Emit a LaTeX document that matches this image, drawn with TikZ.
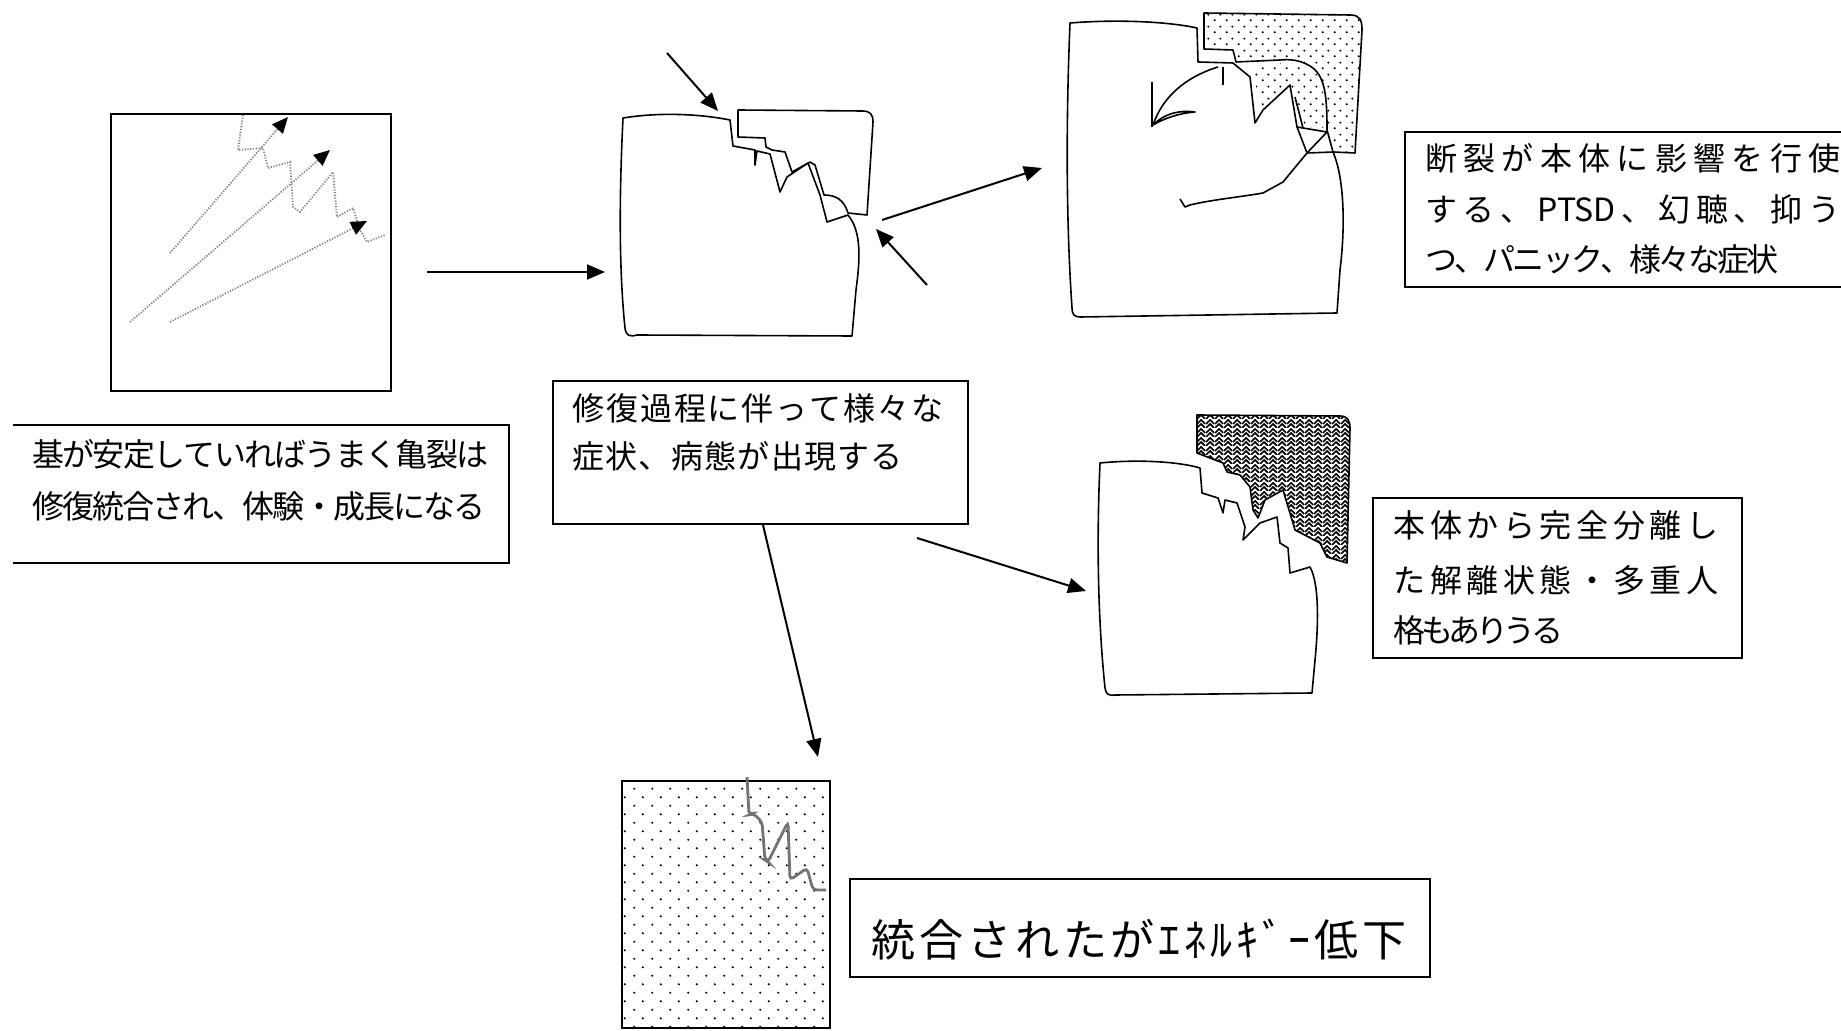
\documentclass[tikz,border=0pt]{standalone}
\usepackage{fontspec}
\newfontfamily\jp{Noto Sans CJK JP}
\usetikzlibrary{arrows.meta,patterns}
% spread the characters of a line evenly over a given width
\makeatletter
\def\jspread#1{\jsp@loop#1\relax}
\def\jsp@loop#1{\ifx#1\relax\else#1\hskip 0pt plus 1fil minus 3pt\relax\expandafter\jsp@loop\fi}
\makeatother
% a line of text set to a given width (in px of the drawing grid)
\newcommand\jline[2]{\hbox to \dimexpr #1pt/2\relax{\jspread{#2}\unskip}}
\newcommand\ptsdword{PTSD}

% staggered dot fills
\pgfdeclarepatternformonly{sparsedots}{\pgfqpoint{0pt}{0pt}}{\pgfqpoint{9pt}{8.7pt}}{\pgfqpoint{9pt}{8.7pt}}{%
  \pgfpathcircle{\pgfqpoint{2.25pt}{2.2pt}}{0.6pt}%
  \pgfpathcircle{\pgfqpoint{6.75pt}{6.55pt}}{0.6pt}%
  \pgfusepath{fill}}
\pgfdeclarepatternformonly{finedots}{\pgfqpoint{0pt}{0pt}}{\pgfqpoint{6pt}{6pt}}{\pgfqpoint{6pt}{6pt}}{%
  \pgfpathcircle{\pgfqpoint{1.5pt}{1.5pt}}{0.6pt}%
  \pgfpathcircle{\pgfqpoint{4.5pt}{4.5pt}}{0.6pt}%
  \pgfusepath{fill}}
% woven chevron fill
\pgfdeclarepatternformonly{weave}{\pgfqpoint{0pt}{0pt}}{\pgfqpoint{4.5pt}{4.5pt}}{\pgfqpoint{4.5pt}{4.5pt}}{%
  \pgfsetlinewidth{0.9pt}%
  \pgfpathmoveto{\pgfqpoint{0pt}{0pt}}\pgfpathlineto{\pgfqpoint{2.25pt}{2.25pt}}\pgfpathlineto{\pgfqpoint{4.5pt}{0pt}}%
  \pgfpathmoveto{\pgfqpoint{0pt}{2.25pt}}\pgfpathlineto{\pgfqpoint{2.25pt}{4.5pt}}\pgfpathlineto{\pgfqpoint{4.5pt}{2.25pt}}%
  \pgfusepath{stroke}}

\begin{document}
\begin{tikzpicture}[x=0.5pt,y=-0.5pt,
  conn/.style={line width=1pt,-{Triangle[length=9pt,width=7.5pt]}},
  dotarrow/.style={black!50,line width=0.9pt,dash pattern=on 0.6pt off 0.8pt,
                   -{Triangle[length=8pt,width=7pt,color=black]}},
  dotline/.style={black!50,line width=0.9pt,dash pattern=on 0.6pt off 0.8pt},
  outline/.style={line width=0.8pt,line join=round},
  frame/.style={line width=0.8pt},
  txt/.style={inner sep=0pt,anchor=base west,font=\jp\fontsize{16}{19}\selectfont},
  bigtxt/.style={inner sep=0pt,anchor=base west,font=\jp\fontsize{22}{26}\selectfont}]

\useasboundingbox (0,0) rectangle (1841,1031);
\fill[white] (0,0) rectangle (1841,1031);

%% ---------- square with growing cracks ----------
\draw[line width=1pt] (111,114) rectangle (391,391);
\draw[dotline] (243,115) -- (238,150) -- (263,148) -- (268,168) -- (290,162) -- (293,207)
  -- (300,212) -- (333,172) -- (337,217) -- (353,208) -- (360,230) -- (367,242) -- (385,235);
\coordinate (ga) at (170,253); \coordinate (gae) at (288,117);
\coordinate (gb) at (130,322); \coordinate (gbe) at (330,150);
\coordinate (gc) at (170,322); \coordinate (gce) at (367,221);
\draw[dotarrow] (ga) -- (gae);
\draw[dotarrow] (gb) -- (gbe);
\draw[dotarrow] (gc) -- (gce);

\draw[frame] (13,425) -- (509,425) -- (509,563) -- (13,563);
\node[txt] (t1a) at (32,467) {\jline{456}{基が安定していればうまく亀裂は}};
\node[txt] (t1b) at (32,519) {\jline{453}{修復統合され、体験・成長になる}};

%% ---------- broken block in the middle ----------
\draw[outline] (623,118) .. controls (660,112) and (700,114) .. (730,120) -- (733,146) -- (755,150)
  -- (755,165) -- (757,151) -- (770,154) -- (780,192) -- (787,177) -- (808,163) -- (820,195)
  -- (827,222) -- (848,215) .. controls (862,232) and (860,260) .. (856,290) -- (852,336)
  -- (637,335) .. controls (630,337) and (626,336) .. (625,328)
  .. controls (618,260) and (620,180) .. (623,118) -- cycle;
\draw[outline] (738,110) -- (862,111) .. controls (870,111) and (873,114) .. (873,122) -- (867,215)
  -- (848,213) .. controls (844,200) and (836,195) .. (824,195) -- (815,165) -- (810,162)
  -- (792,172) -- (785,152) -- (772,150) -- (766,147) -- (765,138) -- (738,137) -- cycle;

\coordinate (m1) at (427,272); \coordinate (m1e) at (605,272);
\coordinate (m2) at (667,53);  \coordinate (m2e) at (718,111);
\coordinate (m3) at (927,285); \coordinate (m3e) at (876,229);
\draw[conn] (m1) -- (m1e);
\draw[conn] (m2) -- (m2e);
\draw[conn] (m3) -- (m3e);

\draw[frame] (553,381) rectangle (968,524);
\node[txt] (t2a) at (572,421) {\jline{371}{修復過程に伴って様々な}};
\node[txt] (t2b) at (572,469) {\jline{330}{症状、病態が出現する}};

%% ---------- block acted on by its fragment ----------
\draw[outline] (1070,23) .. controls (1120,19) and (1170,22) .. (1197,28) -- (1198,62) -- (1233,63)
  -- (1250,77) -- (1255,123) -- (1263,110) -- (1290,85) -- (1297,127) -- (1307,153) -- (1333,152)
  .. controls (1345,180) and (1345,230) .. (1340,270) -- (1337,313) -- (1080,317)
  .. controls (1074,317) and (1072,314) .. (1072,308) .. controls (1066,220) and (1066,120) .. (1070,23) -- cycle;
\draw[outline,pattern=finedots] (1204,13) -- (1350,15) .. controls (1360,15) and (1362,20) .. (1362,30)
  -- (1355,153) -- (1333,152) -- (1327,130) .. controls (1327,95) and (1325,75) .. (1310,66)
  .. controls (1300,60) and (1290,59) .. (1280,60) -- (1236,62) -- (1233,50) -- (1204,49) -- cycle;
\fill[pattern=finedots] (1252,70) -- (1280,63) .. controls (1295,63) and (1308,66) .. (1316,73)
  .. controls (1323,85) and (1325,100) .. (1325,128) -- (1305,127) -- (1297,100) -- (1290,85)
  -- (1263,110) -- (1257,90) -- cycle;
\draw[outline] (1297,127) -- (1327,132) -- (1307,153);
\draw[outline] (1295,97) -- (1303,128);
\draw[outline] (1223,67) -- (1223,85);
\draw[outline] (1218,67) .. controls (1195,74) and (1165,90) .. (1153,125);
\draw[outline] (1152,82) -- (1152,127);
\draw[outline] (1153,125) .. controls (1165,113) and (1180,110) .. (1195,112)
  .. controls (1180,113) and (1165,118) .. (1153,125);
\draw[outline] (1307,153) -- (1283,182) -- (1263,193) .. controls (1240,197) and (1210,200) .. (1190,205)
  -- (1185,207) -- (1180,199);

\coordinate (m4) at (882,220); \coordinate (m4e) at (1042,168);
\draw[conn] (m4) -- (m4e);

\draw[frame] (1841,132) -- (1405,132) -- (1405,287) -- (1841,287);
\node[txt] (t3a) at (1425,171) {\jline{415}{断裂が本体に影響を行使}};
\node[txt] (t3b) at (1425,222) {\jline{415}{する、\ptsdword、幻聴、抑う}};
\node[txt] (t3c) at (1425,272) {\jline{353}{つ、パニック、様々な症状}};

%% ---------- block with a fully separated fragment ----------
\draw[outline] (1100,463) .. controls (1140,459) and (1180,462) .. (1200,468) -- (1202,493) -- (1218,498)
  -- (1223,513) -- (1225,500) -- (1237,503) -- (1245,527) -- (1243,540) -- (1260,523) -- (1277,517)
  -- (1280,543) -- (1288,548) -- (1290,573) -- (1310,567) .. controls (1320,585) and (1318,630) .. (1315,660)
  -- (1312,693) -- (1115,695) .. controls (1108,696) and (1106,694) .. (1105,688)
  .. controls (1097,610) and (1097,530) .. (1100,463) -- cycle;
\draw[outline,pattern=weave] (1197,415) -- (1340,416) .. controls (1347,416) and (1350,420) .. (1350,428)
  -- (1347,563) -- (1327,557) -- (1320,543) -- (1295,530) -- (1283,490) -- (1265,500) -- (1258,518)
  -- (1253,510) -- (1250,487) -- (1240,475) -- (1227,472) -- (1223,463) -- (1197,453) -- cycle;

\coordinate (m5) at (917,538); \coordinate (m5e) at (1086,591);
\draw[conn] (m5) -- (m5e);

\draw[frame] (1373,498) rectangle (1742,658);
\node[txt] (t4a) at (1393,538) {\jline{325}{本体から完全分離し}};
\node[txt] (t4b) at (1393,592) {\jline{325}{た解離状態・多重人}};
\node[txt] (t4c) at (1393,642) {\jline{170}{格もありうる}};

%% ---------- integrated but dulled block ----------
\coordinate (m6) at (763,525); \coordinate (m6e) at (818,757);
\draw[conn] (m6) -- (m6e);
\fill[pattern=sparsedots] (622,781) rectangle (830,1028);
\draw[line width=1pt] (622,781) rectangle (830,1028);
\draw[black!55,line width=1.4pt,rounded corners=2pt] (747,777) -- (749,815) -- (753,813) -- (762,822)
  -- (765,860) -- (768,862) -- (788,822) -- (790,880) -- (807,868) -- (813,890) -- (826,890);

\draw[frame] (850,879) rectangle (1430,977);
\node[bigtxt] (t5) at (871,956) {\jline{535}{統合されたがｴﾈﾙｷﾞｰ低下}};

\end{tikzpicture}
\end{document}
